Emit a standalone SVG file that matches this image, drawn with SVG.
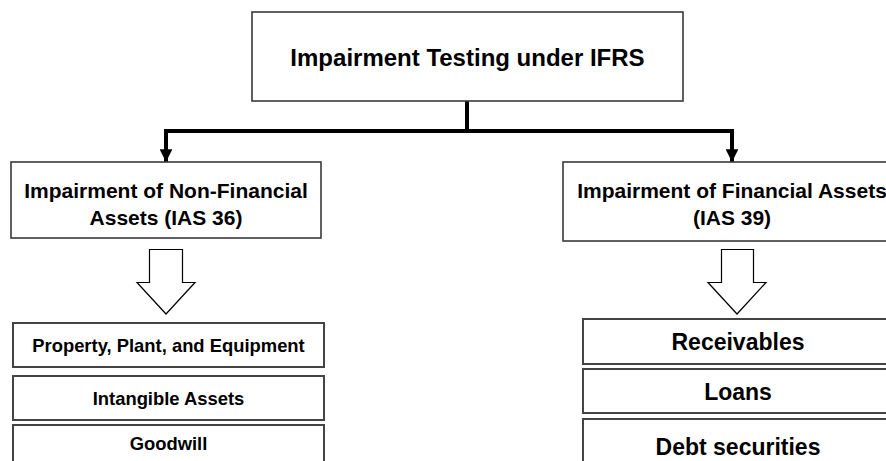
<svg xmlns="http://www.w3.org/2000/svg" width="886" height="461" viewBox="0 0 886 461">
  <defs>
    <style>
      .box { fill: #ffffff; stroke: #3a3a3a; stroke-width: 1.6; }
      .item { fill: #ffffff; stroke: #444444; stroke-width: 2; }
      .t { font-family: "Liberation Sans", Arial, sans-serif; font-weight: bold; fill: #000000; text-anchor: middle; }
      .link { fill: none; stroke: #000000; stroke-width: 4; }
      .hollow { fill: #ffffff; stroke: #000000; stroke-width: 1.2; stroke-linejoin: miter; }
    </style>
    <marker id="head" viewBox="0 0 10 10" refX="10" refY="5" markerWidth="3.2" markerHeight="3.2" markerUnits="strokeWidth" orient="auto">
      <path d="M0,0 L10,5 L0,10 Z" fill="#000000"/>
    </marker>
  </defs>

  <!-- tree connectors -->
  <g id="connectors">
    <path class="link" d="M467,101 V131 M164,131 H734"/>
    <path class="link" d="M166,131 V162" marker-end="url(#head)"/>
    <path class="link" d="M732,131 V162" marker-end="url(#head)"/>
    <path class="hollow" d="M149.5,249.5 H182.5 V282.5 H195 L166,314 L137,282.5 H149.5 Z"/>
    <path class="hollow" d="M721.5,249.5 H753.5 V282.5 H766 L737,314 L708,282.5 H721.5 Z"/>
  </g>

  <g id="root">
    <rect class="box" x="252" y="12" width="431" height="89"/>
    <text class="t" x="467.5" y="65.5" font-size="24">Impairment Testing under IFRS</text>
  </g>

  <g id="non-financial">
    <rect class="box" x="11" y="162" width="310" height="76"/>
    <text class="t" x="166" y="197.5" font-size="21">Impairment of Non-Financial</text>
    <text class="t" x="166" y="224.5" font-size="21">Assets (IAS 36)</text>
  </g>

  <g id="financial">
    <rect class="box" x="563" y="162" width="340" height="79"/>
    <text class="t" x="732" y="197.5" font-size="21">Impairment of Financial Assets</text>
    <text class="t" x="732" y="224.5" font-size="21">(IAS 39)</text>
  </g>

  <g id="ppe">
    <rect class="item" x="13" y="323" width="311" height="44"/>
    <text class="t" x="168.5" y="351.5" font-size="18.4">Property, Plant, and Equipment</text>
  </g>
  <g id="intangibles">
    <rect class="item" x="13" y="376" width="311" height="44"/>
    <text class="t" x="168.5" y="404.5" font-size="18.4">Intangible Assets</text>
  </g>
  <g id="goodwill">
    <rect class="item" x="13" y="425" width="311" height="44"/>
    <text class="t" x="168.5" y="449.5" font-size="18.4">Goodwill</text>
  </g>

  <g id="receivables">
    <rect class="item" x="583" y="319" width="310" height="45"/>
    <text class="t" x="738" y="350" font-size="23">Receivables</text>
  </g>
  <g id="loans">
    <rect class="item" x="583" y="369" width="310" height="44"/>
    <text class="t" x="738" y="399.5" font-size="23">Loans</text>
  </g>
  <g id="debt">
    <rect class="item" x="583" y="419" width="310" height="50"/>
    <text class="t" x="738" y="455" font-size="23">Debt securities</text>
  </g>
</svg>
